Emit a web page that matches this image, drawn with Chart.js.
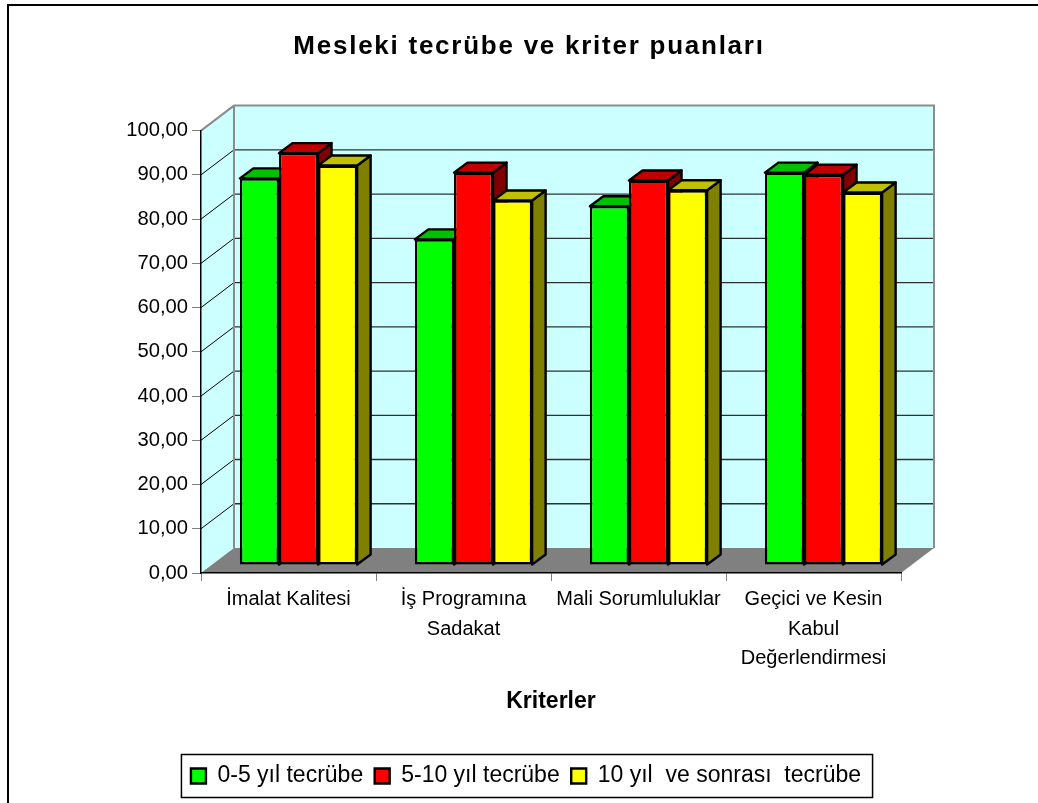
<!DOCTYPE html>
<html>
<head>
<meta charset="utf-8">
<title>Mesleki tecrübe ve kriter puanları</title>
<script src="https://cdn.jsdelivr.net/npm/chart.js@4"></script>
<style>
    html, body { margin: 0; padding: 0; background: #fff; overflow: hidden; }
    #wrap { width: 1038px; height: 803px; position: relative; }
</style>
</head>
<body>
<div id="wrap"><canvas id="chart"></canvas></div>
<script>
const categories = [
    'İmalat Kalitesi',
    ['İş Programına', 'Sadakat'],
    'Mali Sorumluluklar',
    ['Geçici ve Kesin', 'Kabul', 'Değerlendirmesi']
];
const seriesNames = ['0-5 yıl tecrübe', '5-10 yıl tecrübe', '10 yıl  ve sonrası  tecrübe'];
const tecrube0_5 = [87.4, 73.6, 81.1, 88.7];
const tecrube5_10 = [93.1, 88.7, 86.9, 88.2];
const tecrube10Plus = [90.3, 82.4, 84.7, 84.2];
const yMin = 0;
const yMax = 100;
const yStep = 10;

// 3B gorunum icin derinlik ayarlari
const wallDepth = { x: 33, y: -25 };
const barOffset = { x: 10, y: -8 };
const barDepth = { x: 13.5, y: -10 };
const FONT = '"Liberation Sans", Arial, sans-serif';

const seriesStyle = [
    { front: '#00FF00', top: '#00C000', side: '#008000' },
    { front: '#FF0000', top: '#C00000', side: '#800000' },
    { front: '#FFFF00', top: '#C0C000', side: '#808000' }
];

function poly(ctx, pts, fill, stroke, lw) {
    ctx.beginPath();
    pts.forEach((p, i) => i ? ctx.lineTo(p[0], p[1]) : ctx.moveTo(p[0], p[1]));
    ctx.closePath();
    if (fill) { ctx.fillStyle = fill; ctx.fill(); }
    if (stroke) { ctx.strokeStyle = stroke; ctx.lineWidth = lw; ctx.stroke(); }
}

// Dis cerceve, duvarlar, taban ve kilavuz cizgileri
const wallsPlugin = {
    id: 'walls',
    afterLayout(chart) {
        // y ekseni etiketleri eksen kutusundan tasiyor, kirpilmasin
        chart.scales.y._computeLabelArea = () => null;
        // baslikta harf araligi genis
        const t = chart.titleBlock;
        if (t && !t._spaced) {
            const draw = t.draw.bind(t);
            t.draw = () => {
                chart.ctx.save();
                chart.ctx.letterSpacing = '1.75px';
                chart.ctx.translate(3, 0);
                draw();
                chart.ctx.restore();
            };
            t._spaced = true;
        }
    },
    beforeDraw(chart) {
        const { ctx, chartArea: a, scales } = chart;
        const dx = wallDepth.x, dy = wallDepth.y;
        ctx.save();
        ctx.beginPath();
        ctx.moveTo(8, 803);
        ctx.lineTo(8, 5);
        ctx.lineTo(1038, 5);
        ctx.strokeStyle = '#000';
        ctx.lineWidth = 2;
        ctx.stroke();

        poly(ctx, [[a.left, a.top], [a.left + dx, a.top + dy], [a.left + dx, a.bottom + dy], [a.left, a.bottom]], '#CCFFFF');
        poly(ctx, [[a.left + dx, a.top + dy], [a.right + dx, a.top + dy], [a.right + dx, a.bottom + dy], [a.left + dx, a.bottom + dy]], '#CCFFFF');
        poly(ctx, [[a.left, a.bottom], [a.left + dx, a.bottom + dy], [a.right + dx, a.bottom + dy], [a.right, a.bottom]], '#808080');

        scales.y.ticks.forEach(t => {
            if (t.value === yMin || t.value === yMax) return;
            const y = scales.y.getPixelForValue(t.value);
            ctx.beginPath();
            ctx.moveTo(a.left, y);
            ctx.lineTo(a.left + dx, y + dy);
            ctx.strokeStyle = '#000';
            ctx.lineWidth = 1;
            ctx.stroke();
            ctx.beginPath();
            ctx.moveTo(a.left + dx, y + dy);
            ctx.lineTo(a.right + dx, y + dy);
            ctx.strokeStyle = '#303030';
            ctx.lineWidth = 1.3;
            ctx.stroke();
        });

        // gri kenarlar
        ctx.beginPath();
        ctx.moveTo(a.left, a.top);
        ctx.lineTo(a.left + dx, a.top + dy);
        ctx.lineTo(a.right + dx, a.top + dy);
        ctx.lineTo(a.right + dx, a.bottom + dy);
        ctx.moveTo(a.left + dx, a.top + dy);
        ctx.lineTo(a.left + dx, a.bottom + dy);
        ctx.strokeStyle = '#8c8c8c';
        ctx.lineWidth = 2;
        ctx.stroke();
        ctx.restore();
    },
    // seriler soldan saga cizilir: once yan ve ust yuz, sonra on yuz
    beforeDatasetsDraw(chart) {
        const { ctx } = chart;
        const d = barDepth;
        ctx.save();
        ctx.translate(barOffset.x, barOffset.y);
        ctx.lineJoin = 'round';
        [0, 1, 2].forEach(i => {
            const meta = chart.getDatasetMeta(i);
            const style = seriesStyle[i];
            meta.data.forEach(bar => {
                const p = bar.getProps(['x', 'y', 'base', 'width'], true);
                const l = p.x - p.width / 2, r = p.x + p.width / 2;
                poly(ctx, [[r, p.y], [r + d.x, p.y + d.y], [r + d.x, p.base + d.y], [r, p.base]], style.side, '#000', 2.4);
                poly(ctx, [[l, p.y], [l + d.x, p.y + d.y], [r + d.x, p.y + d.y], [r, p.y]], style.top, '#000', 2.4);
            });
            meta.controller.draw();
        });
        ctx.restore();
        return false;
    },
    afterDraw(chart) {
        const boxes = chart.legend.legendHitBoxes;
        if (!boxes || !boxes.length) return;
        const { ctx } = chart;
        const last = boxes[boxes.length - 1];
        ctx.save();
        ctx.strokeStyle = '#000';
        ctx.lineWidth = 1.5;
        ctx.strokeRect(boxes[0].left - 9.5, boxes[0].top - 10, last.left + last.width - boxes[0].left + 21, boxes[0].height + 20);
        ctx.restore();
    }
};

const datasets = [tecrube0_5, tecrube5_10, tecrube10Plus].map((values, i) => ({
    label: seriesNames[i],
    data: values,
    backgroundColor: seriesStyle[i].front,
    borderColor: '#000',
    borderWidth: 2.4,
    borderSkipped: false,
    categoryPercentage: 0.67,
    barPercentage: 1
}));

new Chart(document.getElementById('chart'), {
    type: 'bar',
    data: { labels: categories, datasets: datasets },
    plugins: [wallsPlugin],
    options: {
        responsive: true,
        maintainAspectRatio: false,
        animation: false,
        layout: { padding: { left: 151, right: 137, top: 0, bottom: 5.5 } },
        plugins: {
            title: {
                display: true,
                text: 'Mesleki tecrübe ve kriter puanları',
                color: '#000',
                font: { family: FONT, size: 26, weight: 'bold' },
                padding: { top: 31.4, bottom: 68 }
            },
            legend: {
                position: 'bottom',
                labels: {
                    color: '#000',
                    font: { family: FONT, size: 23 },
                    boxWidth: 15,
                    boxHeight: 15,
                    padding: 11.5
                }
            },
            tooltip: { enabled: false }
        },
        scales: {
            x: {
                afterFit(s) { s.height = 180; },
                border: { color: '#000', width: 1.5 },
                grid: { drawOnChartArea: false, drawTicks: true, tickLength: 8, color: '#808080' },
                ticks: {
                    color: '#000',
                    autoSkip: false,
                    maxRotation: 0,
                    padding: 4,
                    font: { family: FONT, size: 20, lineHeight: 1.475 }
                },
                title: {
                    display: true,
                    text: 'Kriterler',
                    color: '#000',
                    font: { family: FONT, size: 23, weight: 'bold' },
                    padding: { top: 0, bottom: 37.7 }
                }
            },
            y: {
                min: yMin,
                max: yMax,
                afterFit(s) { s.width = 50; },
                border: { color: '#000', width: 1.5 },
                grid: { drawOnChartArea: false, drawTicks: true, tickLength: 9, color: '#808080' },
                ticks: {
                    stepSize: yStep,
                    color: '#000',
                    padding: 4,
                    font: { family: FONT, size: 20.2 },
                    callback: v => v.toFixed(2).replace('.', ',')
                }
            }
        }
    }
});
</script>
</body>
</html>
